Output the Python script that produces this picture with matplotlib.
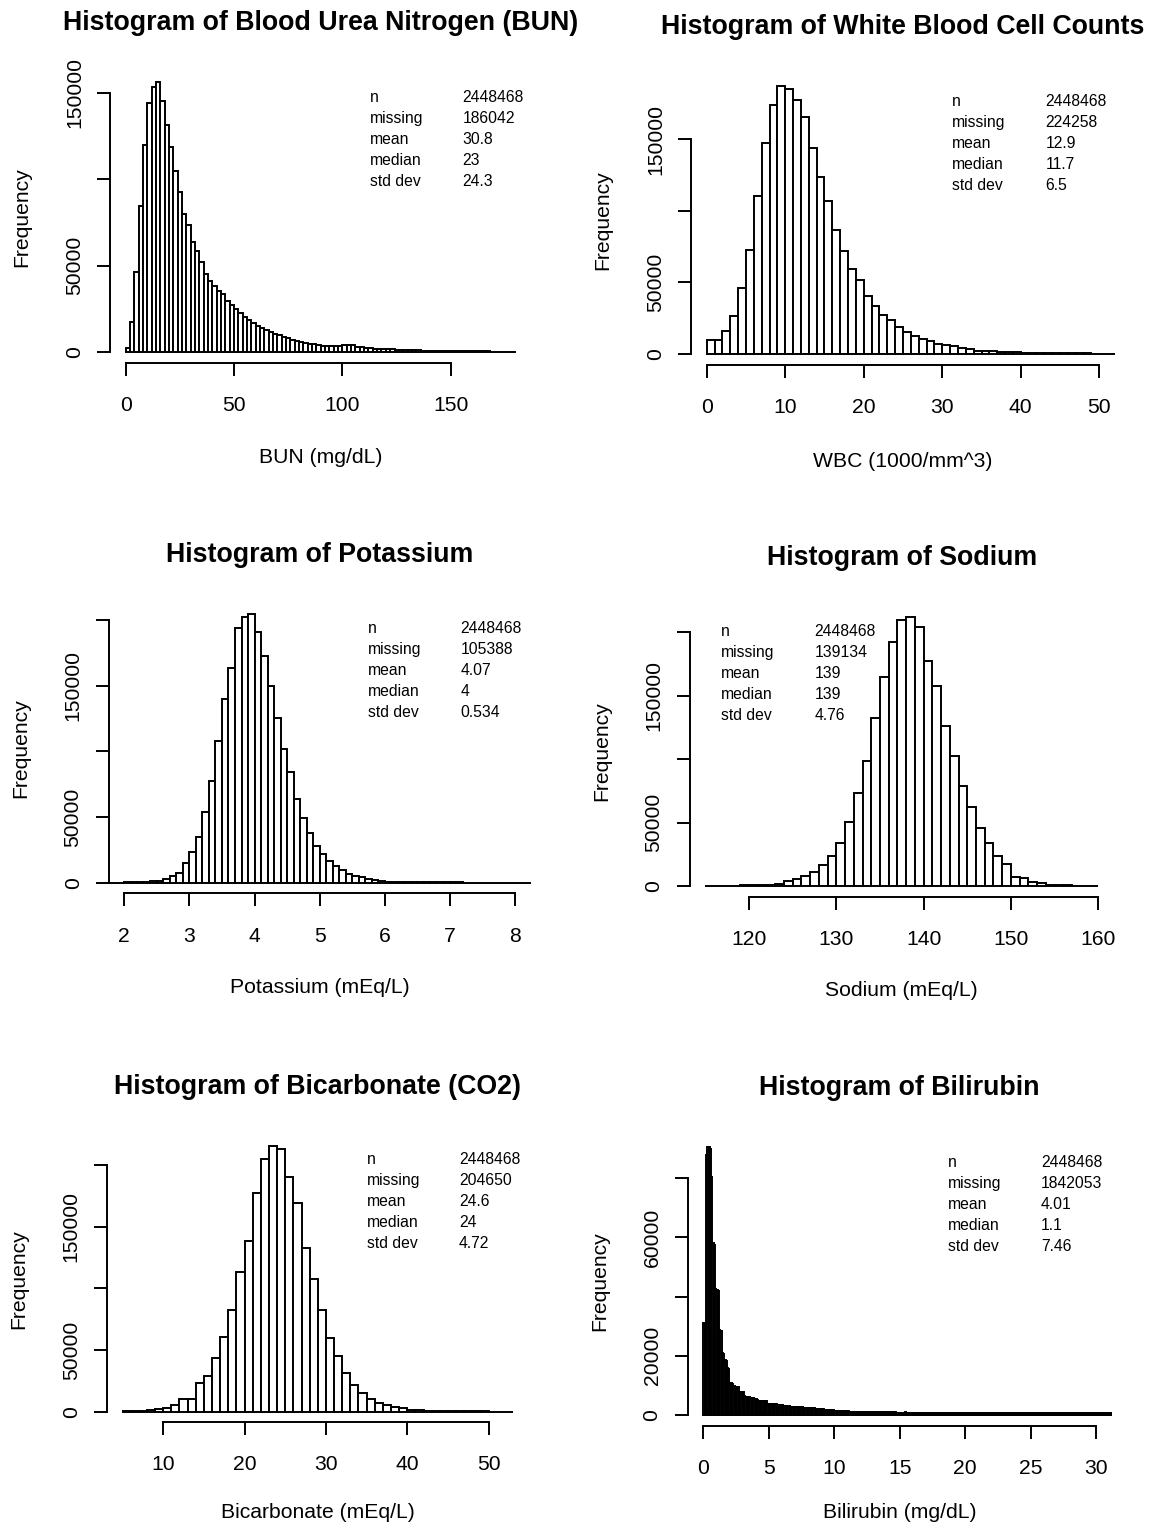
import numpy as np
import matplotlib
matplotlib.use("Agg")
import matplotlib.pyplot as plt

plt.rcParams['font.family'] = ['Liberation Sans', 'DejaVu Sans']

W, H, DPI = 1157, 1528, 100

# ---------------- data ----------------
stat_names = ["n", "missing", "mean", "median", "std dev"]

# BUN (mg/dL), bins of width 2 starting at 0
bun_start, bun_width = 0, 2
bun_counts = [2500, 17400, 46500, 84300, 119600, 144000, 153300, 156000, 145000, 131400,
              118800, 104700, 92600, 79700, 73400, 63600, 58300, 52300, 45200, 40900,
              38200, 35100, 33500, 29700, 27300, 24600, 22300, 20000, 18400, 16700,
              15100, 14100, 13000, 11800, 10700, 9700, 8700, 8300, 7200, 6400,
              5800, 5400, 4800, 4500, 4100, 3500, 3500, 3400, 3300, 3600,
              4000, 4100, 3900, 3000, 2700, 2500, 2300, 2000, 1900, 1800,
              1600, 1500, 1400, 1300, 1100, 1000, 950, 900, 850, 800,
              750, 700, 650, 600, 550, 500, 480, 450, 420, 400,
              380, 350, 330, 300, 280, 260, 240, 220, 200, 190]
bun_stats = ["2448468", "186042", "30.8", "23", "24.3"]

# WBC (1000/mm^3), bins of width 1 starting at 0
wbc_start, wbc_width = 0, 1
wbc_counts = [9500, 9500, 15800, 26700, 46300, 72800, 110500, 147700, 173700, 187500,
              185200, 177500, 165800, 144200, 124000, 107000, 86800, 72100, 59300, 51400,
              40200, 33300, 27000, 24000, 18600, 15100, 12300, 10500, 8800, 7000,
              6000, 5300, 4000, 3500, 2300, 2300, 1800, 1500, 1300, 1100,
              1000, 900, 800, 700, 600, 500, 450, 400, 350, 300,
              250, 200]
wbc_stats = ["2448468", "224258", "12.9", "11.7", "6.5"]

# Potassium (mEq/L), bins of width 0.1 starting at 1.7
k_start, k_width = 1.7, 0.1
k_counts = [50, 80, 120, 200, 300, 450, 650, 1000, 1500,
            2500, 5100, 7100, 15200, 23600, 35000, 53600, 77400, 108100, 139600,
            163200, 193600, 202000, 204600, 190600, 172800, 149700, 125100, 101500, 84300,
            63700, 49500, 37600, 28200, 21600, 16500, 12900, 9600, 6600, 5300,
            4100, 3000, 2000, 1000, 800, 700, 600, 500, 450, 400,
            350, 300, 250, 250, 200, 200, 150, 150, 150, 100,
            100, 100, 100, 80, 80, 60, 60]
k_stats = ["2448468", "105388", "4.07", "4", "0.534"]

# Sodium (mEq/L), bins of width 1 starting at 115
na_start, na_width = 115, 1
na_counts = [200, 250, 300, 400, 500, 700, 900, 1200, 1800, 3900,
             5300, 7900, 11300, 16600, 23700, 33700, 50800, 73100, 98900, 132300,
             164400, 192300, 209400, 212000, 203800, 177500, 157800, 126500, 102600, 79200,
             62100, 45500, 33700, 23700, 17400, 6800, 6000, 3400, 2100, 1200,
             800, 500, 300, 200, 100]
na_stats = ["2448468", "139134", "139", "139", "4.76"]

# Bicarbonate (mEq/L), bins of width 1 starting at 5
co2_start, co2_width = 5, 1
co2_counts = [400, 600, 900, 1300, 2000, 3200, 5400, 10000, 10000, 23000,
              29200, 43800, 60800, 82400, 113000, 138400, 177600, 204600, 215700, 213000,
              190600, 169500, 133000, 107300, 82400, 60000, 45100, 31100, 21600, 14900,
              10000, 7300, 5400, 4100, 2700, 1500, 1200, 900, 700, 500,
              400, 300, 250, 200, 150, 100, 100, 100]
co2_stats = ["2448468", "204650", "24.6", "24", "4.72"]

# Bilirubin (mg/dL), bins of width 0.1 starting at 0
bili_start, bili_width = 0, 0.1
bili_counts = [
    31000, 31000, 88000, 90700, 90600, 89800, 80300, 58000, 57600, 42500,
    42300, 41900, 28700, 28400, 20900, 20700, 18600, 18300, 15800, 15500,
    10800, 10700, 10500, 9700, 9600, 9600, 9500, 7900, 7900, 7800,
    7700, 6300, 6200, 6200, 6100, 6000, 5700, 5600, 5600, 5500,
    5500, 4900, 4800, 4800, 4800, 4700, 4700, 4700, 4600, 3800,
    3700, 3700, 3700, 3700, 3600, 3600, 3500, 3300, 3200, 3200,
    3200, 3100, 3100, 3000, 2900, 2900, 2800, 2800, 2800, 2800,
    2700, 2700, 2700, 2600, 2600, 2600, 2500, 2500, 2500, 2400,
    2400, 2300, 2300, 2200, 2200, 2100, 2000, 2000, 1900, 1900,
    1900, 1900, 1800, 1800, 1800, 1700, 1700, 1700, 1600, 1600,
    1500, 1400, 1400, 1300, 1300, 1300, 1200, 1200, 1200, 1200,
    1200, 1100, 1100, 1100, 1100, 1100, 1100, 1000, 1000, 1000,
    1000, 1000, 1000, 1000, 1000, 950, 950, 950, 950, 900,
    900, 900, 900, 900, 900, 900, 880, 880, 880, 880,
    850, 850, 860, 870, 880, 870, 850, 830, 820, 820,
    800, 800, 810, 830, 840, 830, 810, 800, 790, 780,
    780, 790, 800, 820, 830, 820, 800, 780, 770, 760,
    760, 770, 790, 800, 810, 800, 780, 760, 750, 740,
    750, 770, 800, 820, 830, 820, 800, 780, 760, 740,
    730, 740, 760, 780, 790, 780, 760, 740, 720, 710,
    700, 700, 710, 720, 720, 710, 700, 690, 680, 670,
    670, 680, 690, 700, 690, 680, 670, 660, 650, 650,
    650, 660, 670, 680, 670, 660, 650, 640, 630, 630,
    640, 650, 660, 660, 650, 640, 630, 620, 620, 610,
    620, 630, 640, 650, 640, 630, 620, 610, 600, 600,
    610, 620, 630, 630, 620, 610, 600, 590, 590, 580,
    590, 600, 610, 620, 610, 600, 590, 580, 570, 570,
    580, 590, 600, 600, 590, 580, 570, 560, 560, 550,
    560, 570, 580, 590, 580, 570, 560, 550, 550, 540,
    550, 560, 570, 580, 570, 560, 550, 540, 540, 530,
    540, 550, 560, 570, 560, 550, 540, 530, 530, 520,
    520, 520]
bili_stats = ["2448468", "1842053", "4.01", "1.1", "7.46"]

titles = ["Histogram of Blood Urea Nitrogen (BUN)", "Histogram of White Blood Cell Counts",
          "Histogram of Potassium", "Histogram of Sodium",
          "Histogram of Bicarbonate (CO2)", "Histogram of Bilirubin"]
xlabels = ["BUN (mg/dL)", "WBC (1000/mm^3)", "Potassium (mEq/L)", "Sodium (mEq/L)",
           "Bicarbonate (mEq/L)", "Bilirubin (mg/dL)"]
xlims = [(0, 180), (0, 50), (2, 8), (115, 160), (5, 53), (0, 30)]
xticks = [[0, 50, 100, 150], [0, 10, 20, 30, 40, 50], [2, 3, 4, 5, 6, 7, 8],
          [120, 130, 140, 150, 160], [10, 20, 30, 40, 50], [0, 5, 10, 15, 20, 25, 30]]
yticks = [[0, 50000, 100000, 150000], [0, 50000, 100000, 150000],
          [0, 50000, 100000, 150000, 200000], [0, 50000, 100000, 150000, 200000],
          [0, 50000, 100000, 150000, 200000], [0, 20000, 40000, 60000, 80000]]
ylabels_shown = [["0", "50000", "", "150000"], ["0", "50000", "", "150000"],
                 ["0", "50000", "", "150000", ""], ["0", "50000", "", "150000", ""],
                 ["0", "50000", "", "150000", ""], ["0", "20000", "", "60000", ""]]

series = [(bun_start, bun_width, bun_counts, bun_stats),
          (wbc_start, wbc_width, wbc_counts, wbc_stats),
          (k_start, k_width, k_counts, k_stats),
          (na_start, na_width, na_counts, na_stats),
          (co2_start, co2_width, co2_counts, co2_stats),
          (bili_start, bili_width, bili_counts, bili_stats)]

# ---------------- layout (pixels) ----------------
rects = [(110.1, 71.5, 531.5, 362.8), (691.0, 75.0, 1115.0, 364.7),
         (108.7, 603.2, 530.6, 893.5), (689.6, 606.3, 1114.0, 896.8),
         (106.9, 1135.0, 528.7, 1422.3), (687.6, 1135.9, 1111.7, 1425.7)]
stat_pos = [(370, 462.7, 101.7), (951.7, 1045.7, 105.7), (368.3, 460.7, 633.4),
            (720.7, 814.3, 635.7), (366.7, 459.0, 1164.0), (947.7, 1041.0, 1167.4)]
stat_dy = 21.0
xlab_off = [95, 97, 94, 94, 90, 87]

PT = 0.72  # points per pixel at 100 dpi
base_fs = 21.2 * PT
title_fs = 26.8 * PT
stat_fs = 15.8 * PT
lw = 1.4

fig = plt.figure(figsize=(W / DPI, H / DPI), dpi=DPI)
fig.patch.set_facecolor('white')

for i in range(6):
    l, t, r, b = rects[i]
    ax = fig.add_axes([l / W, 1 - b / H, (r - l) / W, (b - t) / H])
    start, width, counts, stats = series[i]
    counts = np.asarray(counts, dtype=float)
    edges = start + width * np.arange(len(counts) + 1)
    ax.bar(edges[:-1], counts, width=width, align='edge', color='white',
           edgecolor='black', linewidth=lw)
    x0, x1 = xlims[i]
    ext = 0.04 * (x1 - x0)
    ax.set_xlim(x0 - ext, x1 + ext)
    ymax = counts.max()
    ax.set_ylim(-0.04 * ymax, 1.04 * ymax)

    for s in ['top', 'right']:
        ax.spines[s].set_visible(False)
    ax.spines['left'].set_bounds(yticks[i][0], yticks[i][-1])
    ax.spines['bottom'].set_bounds(xticks[i][0], xticks[i][-1])
    for s in ['left', 'bottom']:
        ax.spines[s].set_linewidth(lw)

    ax.set_xticks(xticks[i])
    ax.set_xticklabels([str(v) for v in xticks[i]])
    ax.set_yticks(yticks[i])
    ax.set_yticklabels(ylabels_shown[i])
    ax.tick_params(axis='both', direction='out', length=13 * PT, width=lw,
                   labelsize=base_fs)
    ax.tick_params(axis='x', pad=14.5)
    ax.tick_params(axis='y', pad=9.4)
    for lab in ax.get_yticklabels():
        lab.set_rotation(90)
        lab.set_ha('right')
        lab.set_va('center')

    axw = r - l
    axh = b - t
    ax.set_xlabel(xlabels[i], fontsize=base_fs)
    ax.xaxis.set_label_coords(0.5, -xlab_off[i] / axh)
    ax.xaxis.label.set_va('center')
    ax.set_ylabel("Frequency", fontsize=base_fs)
    ax.yaxis.set_label_coords(-88 / axw, 0.5)
    ax.yaxis.label.set_va('center')
    ax.set_title(titles[i], fontsize=title_fs, fontweight='bold', pad=41 * PT)

    lx, vx, y0 = stat_pos[i]
    for j, (nm, val) in enumerate(zip(stat_names, stats)):
        yy = y0 + j * stat_dy
        fig.text(lx / W, 1 - yy / H, nm, fontsize=stat_fs, va='baseline', ha='left')
        fig.text(vx / W, 1 - yy / H, val, fontsize=stat_fs, va='baseline', ha='left')

fig.savefig("out.png", dpi=DPI, facecolor='white')
